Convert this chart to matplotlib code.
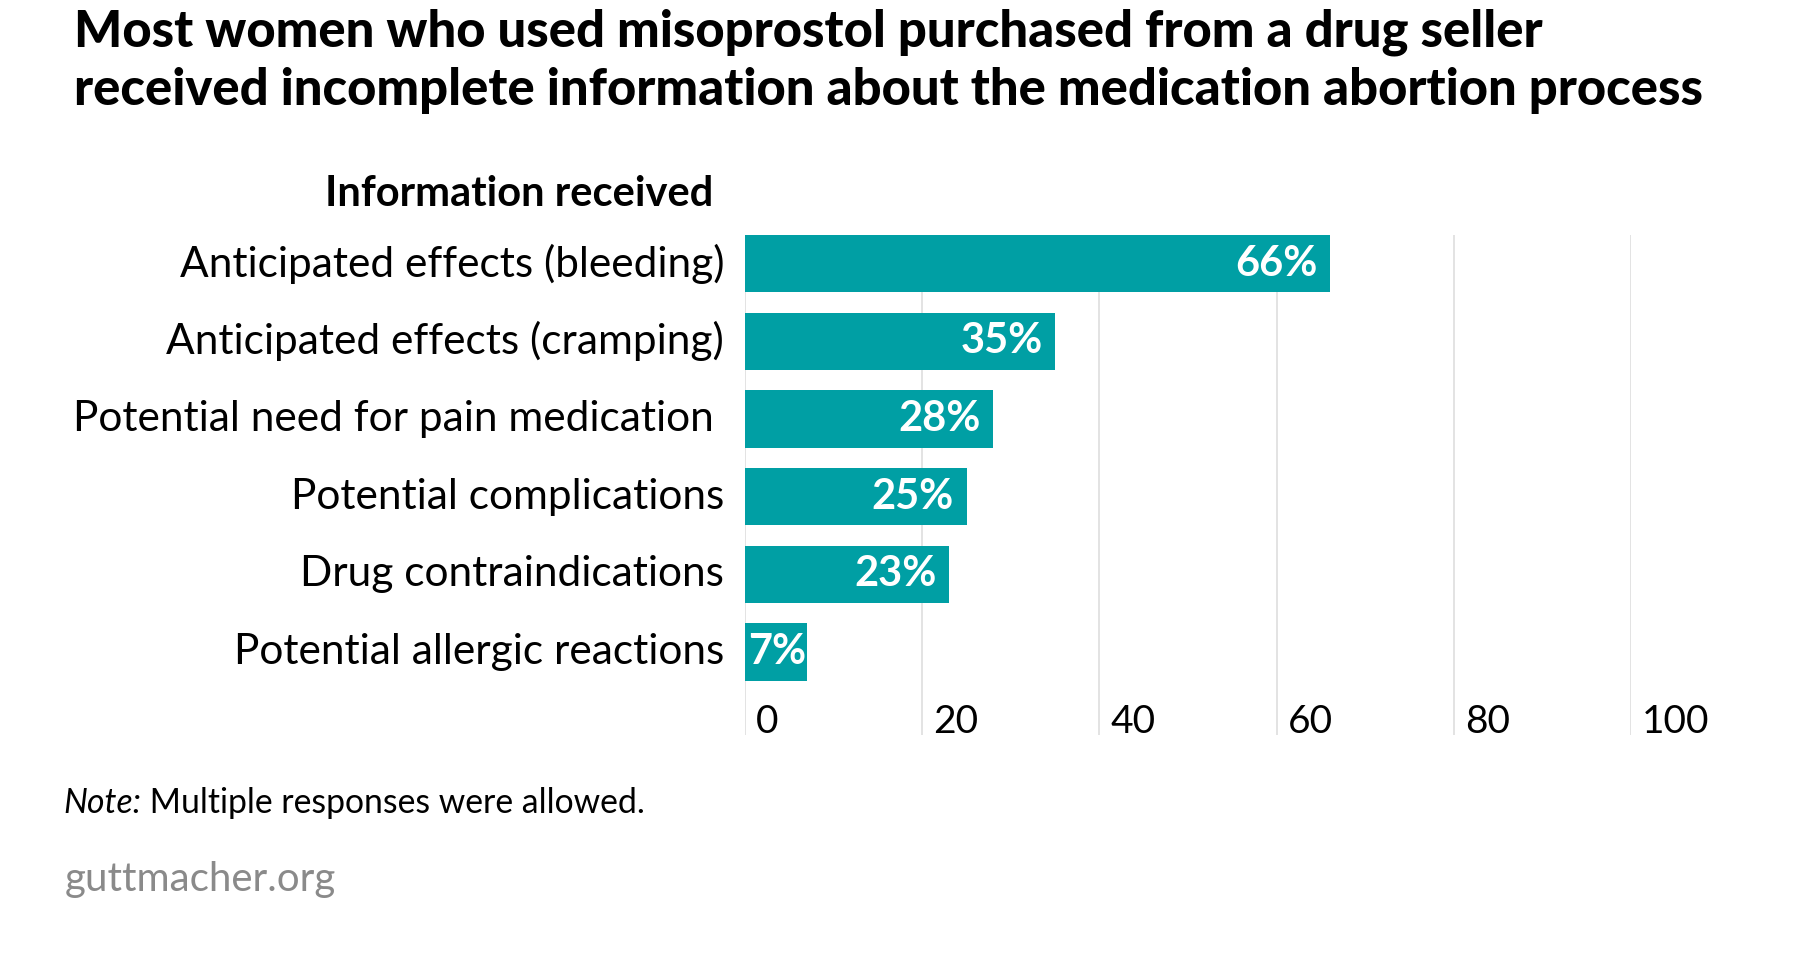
import matplotlib
matplotlib.use("Agg")
import matplotlib.pyplot as plt

categories = [
    "Anticipated effects (bleeding)",
    "Anticipated effects (cramping)",
    "Potential need for pain medication ",
    "Potential complications",
    "Drug contraindications",
    "Potential allergic reactions",
]
values = [66, 35, 28, 25, 23, 7]
value_labels = ["66%", "35%", "28%", "25%", "23%", "7%"]
xticks = [0, 20, 40, 60, 80, 100]

title = ("Most women who used misoprostol purchased from a drug seller\n"
         "received incomplete information about the medication abortion process")
header = "Information received"
note_it = "Note:"
note_rest = " Multiple responses were allowed."
source = "guttmacher.org"

W, H = 1800, 964
BAR = "#009fa4"
GRID = "#dedede"
FONT = "Lato"

plt.rcParams["font.family"] = [FONT, "DejaVu Sans"]

fig = plt.figure(figsize=(W / 100, H / 100), dpi=100)

def fx(px):
    return px / W

def fy(py):
    return 1 - py / H

ax_left, ax_right = 745, 1631
ax_top, ax_bot = 235, 735
ax = fig.add_axes([fx(ax_left), fy(ax_bot), fx(ax_right - ax_left), (ax_bot - ax_top) / H])

ypos = list(range(len(categories)))
ax.barh(ypos, values, height=0.74, color=BAR, zorder=2)
ax.set_xlim(0, 100)
ax.set_ylim(6.07, -0.37)
for v in xticks:
    ax.axvline(v, color=GRID, lw=1.2, zorder=1)
for s in ax.spines.values():
    s.set_visible(False)
ax.set_xticks([])
ax.set_yticks([])

# value labels inside bars
fig.canvas.draw()
renderer = fig.canvas.get_renderer()
x0_disp = ax.transData.transform((0, 0))[0]
for y, v, lab in zip(ypos, values, value_labels):
    t = ax.annotate(lab, (v, y), xytext=(-9, 0), textcoords="offset points",
                    ha="right", va="center", color="white", fontsize=30,
                    fontweight="bold")
    bb = t.get_window_extent(renderer)
    if bb.x0 < x0_disp + 3:
        t.remove()
        ax.annotate(lab, (0, y), xytext=(2, 0), textcoords="offset points",
                    ha="left", va="center", color="white", fontsize=30,
                    fontweight="bold")

# category labels
for y, c in zip(ypos, categories):
    ax.annotate(c, (0, y), xytext=(-15, 0), textcoords="offset points",
                ha="right", va="center", color="black", fontsize=30.5)

# x tick labels inside axes region
for v in xticks:
    ax.annotate(str(v), (v, 5.9), xytext=(8, 0), textcoords="offset points",
                ha="left", va="center", fontsize=28, color="black")

fig.text(fx(74), fy(8), title, ha="left", va="top", fontsize=36.5,
         fontweight="black", linespacing=1.29)
fig.text(fx(713), fy(193.5), header, ha="right", va="center", fontsize=30,
         fontweight="bold")

t = fig.text(fx(63), fy(803), note_it, ha="left", va="center", fontsize=24.3,
             style="italic")
fig.canvas.draw()
bb = t.get_window_extent()
fig.text(bb.x1 / W, fy(803), note_rest, ha="left", va="center", fontsize=24.3)
fig.text(fx(65), fy(880), source, ha="left", va="center", fontsize=29,
         color="#8a8a8a")

fig.savefig("out.png", dpi=100, facecolor="white")
